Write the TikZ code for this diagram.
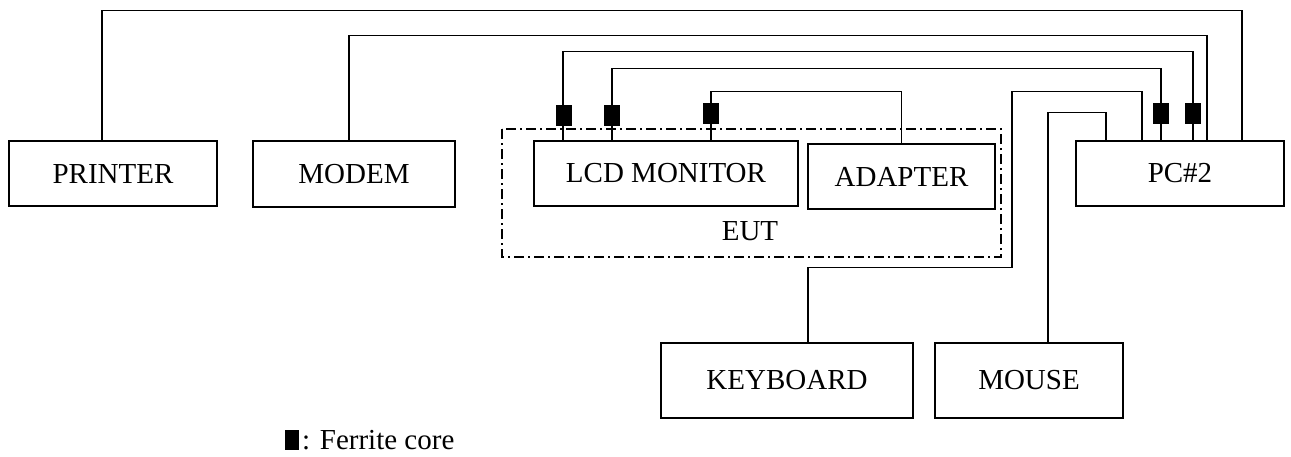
\documentclass[tikz,border=0pt]{standalone}
\usepackage{fontspec}
\setmainfont{Liberation Serif}
\begin{document}
\begin{tikzpicture}[x=1pt,y=-1pt,
  box/.style={draw,line width=1.2pt,inner sep=0pt,font=\fontsize{29}{32}\selectfont},
  wire/.style={line width=1.2pt},
  ferrite/.style={fill=black,draw=none,minimum width=16pt,minimum height=21pt,inner sep=0pt},
  eut/.style={line width=1.2pt,dash pattern=on 10pt off 4pt on 2pt off 4pt}]
\useasboundingbox (0,0) rectangle (1291,456);
% boxes
\node[box,minimum width=208pt,minimum height=65pt] (printer) at (113,173.5) {PRINTER};
\node[box,minimum width=202pt,minimum height=66pt] (modem) at (354,174) {MODEM};
\node[box,minimum width=264pt,minimum height=65pt] (lcd) at (666,173.5) {LCD MONITOR};
\node[box,minimum width=187pt,minimum height=65pt] (adapter) at (901.5,176.5) {ADAPTER};
\node[box,minimum width=208pt,minimum height=65pt] (pc) at (1180,173.5) {PC\#2};
\node[box,minimum width=252pt,minimum height=75pt] (keyboard) at (787,380.5) {KEYBOARD};
\node[box,minimum width=188pt,minimum height=75pt] (mouse) at (1029,380.5) {MOUSE};
% EUT
\draw[eut] (502,129) rectangle (1001,257);
\node[font=\fontsize{29}{32}\selectfont,inner sep=0pt] (euttext) at (750,231) {EUT};
% wires
\draw[wire] ([xshift=-11pt]printer.north) -- ++(0,-130) -| ([xshift=62pt]pc.north);
\draw[wire] ([xshift=-5pt]modem.north) -- ++(0,-105) -| ([xshift=27pt]pc.north);
\draw[wire] ([xshift=-103pt]lcd.north) -- ++(0,-89) -| ([xshift=13pt]pc.north);
\draw[wire] ([xshift=-54pt]lcd.north) -- ++(0,-72) -| ([xshift=-19pt]pc.north);
\draw[wire] (adapter.north) -- ++(0,-52) -| ([xshift=45pt]lcd.north);
\draw[wire] ([xshift=-38pt]pc.north) -- ++(0,-49) -- ++(-130,0) -- ++(0,176) -| ([xshift=21pt]keyboard.north);
\draw[wire] ([xshift=-74pt]pc.north) -- ++(0,-28) -| ([xshift=19pt]mouse.north);
% ferrite cores
\node[ferrite] (f1) at (564,115.5) {};
\node[ferrite] (f2) at (612,115.5) {};
\node[ferrite] (f3) at (711,113.5) {};
\node[ferrite] (f4) at (1161,113.5) {};
\node[ferrite] (f5) at (1193,113.5) {};
% legend
\node[fill=black,minimum width=14pt,minimum height=20pt,inner sep=0pt] (legsq) at (292,440) {};
\node[anchor=base west,inner sep=0pt,font=\fontsize{29}{32}\selectfont] (legtext) at (302,449) {: Ferrite core};
\end{tikzpicture}
\end{document}
